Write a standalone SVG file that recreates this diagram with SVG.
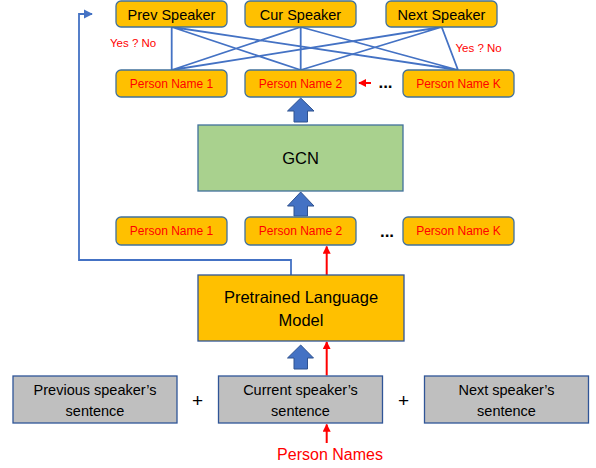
<svg xmlns="http://www.w3.org/2000/svg" width="596" height="468" viewBox="0 0 596 468">
<style>
.org{fill:#FFC000;stroke:#41719C;stroke-width:1.3}
.grey{fill:#BFBFBF;stroke:#2F5597;stroke-width:1.3}
.gcn{fill:#A9D18E;stroke:#41719C;stroke-width:1.3}
.t{font-family:"Liberation Sans",Arial,sans-serif;text-anchor:middle;fill:#000}
.big{font-size:14.5px}
.pn{font-size:12px;fill:#FF0000}
.yn{font-family:"Liberation Sans",Arial,sans-serif;font-size:11.5px;fill:#FF0000}
.blue{stroke:#4472C4;stroke-width:1.8;fill:none}
.red{stroke:#FF0000;stroke-width:2;fill:none}
.fat{fill:#4472C4;stroke:#2F528F;stroke-width:1}
.dots{font-size:17px;font-weight:bold}
</style>
<defs>
<marker id="rh" viewBox="0 0 10 10" refX="9" refY="5" markerWidth="4" markerHeight="4" orient="auto" markerUnits="strokeWidth"><path d="M0,0 L10,5 L0,10 z" fill="#FF0000"/></marker>
<marker id="bh" viewBox="0 0 10 10" refX="9" refY="5" markerWidth="5" markerHeight="5.5" orient="auto" markerUnits="strokeWidth"><path d="M0,0 L10,5 L0,10 z" fill="#4472C4"/></marker>
</defs>
<g id="connectors">
<path class="blue" d="M171.7,27 L171.7,70 M171.7,27 L300.7,70 M171.7,27 L458,70 M300.7,27 L171.7,70 M300.7,27 L300.7,70 M300.7,27 L458,70 M441.7,27 L171.7,70 M441.7,27 L300.7,70 M441.7,27 L458,70"/>
<path class="blue" d="M291,275 V260 H79 V14 H92" marker-end="url(#bh)"/>
<path class="red" d="M371,83 H359" marker-end="url(#rh)"/>
<path class="red" d="M326.7,275 V246.5" marker-end="url(#rh)"/>
<path class="red" d="M326.7,375.5 V342" marker-end="url(#rh)"/>
<path class="red" d="M326.7,443 V424.5" marker-end="url(#rh)"/>
<path class="fat" d="M300.7,98 L314,111 L307.5,111 L307.5,122 L294,122 L294,111 L287.5,111 Z"/>
<path class="fat" d="M300.7,192 L314,206 L307.5,206 L307.5,216 L294,216 L294,206 L287.5,206 Z"/>
<path class="fat" d="M300.7,345 L313.5,358 L307.5,358 L307.5,369 L294,369 L294,358 L287.5,358 Z"/>
</g>
<g id="prev-speaker"><rect class="org" x="116" y="1" width="111" height="26" rx="5"/><text class="t big" x="171.5" y="19.5">Prev Speaker</text></g>
<g id="cur-speaker"><rect class="org" x="245" y="1" width="111" height="26" rx="5"/><text class="t big" x="300.5" y="19.5">Cur Speaker</text></g>
<g id="next-speaker"><rect class="org" x="386" y="1" width="111" height="26" rx="5"/><text class="t big" x="441.5" y="19.5">Next Speaker</text></g>
<g id="yes-no-left"><text class="yn" x="110" y="47">Yes ? No</text></g>
<g id="yes-no-right"><text class="yn" x="455.5" y="52">Yes ? No</text></g>
<g id="pn1-top"><rect class="org" x="116" y="70" width="111" height="27" rx="5"/><text class="t pn" x="171.5" y="88">Person Name 1</text></g>
<g id="pn2-top"><rect class="org" x="245" y="70" width="111" height="27" rx="5"/><text class="t pn" x="300.5" y="88">Person Name 2</text></g>
<g id="dots-top"><text class="t dots" x="385.5" y="88">...</text></g>
<g id="pnk-top"><rect class="org" x="403" y="70" width="111" height="27" rx="5"/><text class="t pn" x="458.5" y="88">Person Name K</text></g>
<g id="gcn"><rect class="gcn" x="198" y="125" width="205" height="66"/><text class="t" x="300.5" y="164" style="font-size:16.5px">GCN</text></g>
<g id="pn1-bot"><rect class="org" x="116" y="217" width="111" height="28" rx="5"/><text class="t pn" x="171.5" y="235">Person Name 1</text></g>
<g id="pn2-bot"><rect class="org" x="245" y="217" width="111" height="28" rx="5"/><text class="t pn" x="300.5" y="235">Person Name 2</text></g>
<g id="dots-bot"><text class="t dots" x="387" y="237">...</text></g>
<g id="pnk-bot"><rect class="org" x="403" y="217" width="111" height="28" rx="5"/><text class="t pn" x="458.5" y="235">Person Name K</text></g>
<g id="plm"><rect x="198" y="275" width="206" height="66" fill="#FFC000" stroke="#2F5597" stroke-width="1.3"/><text class="t" x="301" y="303" style="font-size:16.5px">Pretrained Language</text><text class="t" x="301" y="326" style="font-size:16.5px">Model</text></g>
<g id="prev-sentence"><rect class="grey" x="13" y="376" width="164" height="47"/><text class="t big" x="95" y="395">Previous speaker’s</text><text class="t big" x="95" y="416">sentence</text></g>
<g id="plus1"><text class="t" x="197.5" y="407" style="font-size:19px">+</text></g>
<g id="cur-sentence"><rect class="grey" x="218.5" y="376" width="164" height="47"/><text class="t big" x="300.5" y="395">Current speaker’s</text><text class="t big" x="300.5" y="416">sentence</text></g>
<g id="plus2"><text class="t" x="403.5" y="407" style="font-size:19px">+</text></g>
<g id="next-sentence"><rect class="grey" x="424.5" y="376" width="164" height="47"/><text class="t big" x="506.5" y="395">Next speaker’s</text><text class="t big" x="506.5" y="416">sentence</text></g>
<g id="person-names"><text class="t" x="330" y="460" style="font-size:16px;fill:#FF0000">Person Names</text></g>
</svg>
